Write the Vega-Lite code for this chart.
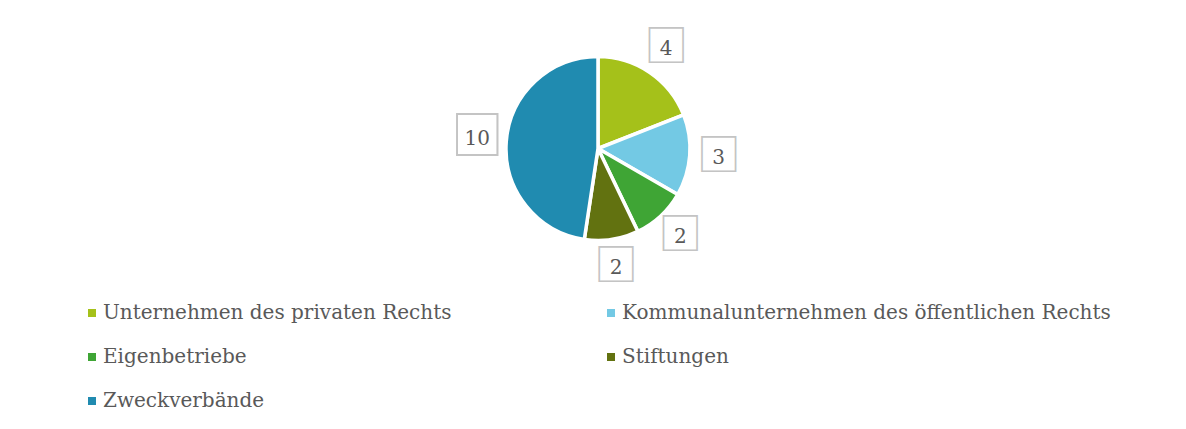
{
  "$schema": "https://vega.github.io/schema/vega-lite/v6.json",
  "width": 1176,
  "height": 297,
  "autosize": {"type": "none"},
  "padding": {"left": 10, "top": 0, "right": 0, "bottom": 132},
  "background": "white",
  "config": {"view": {"stroke": null}},
  "data": {"values": [
    {"idx": 1, "kategorie": "Unternehmen des privaten Rechts", "anzahl": 4},
    {"idx": 2, "kategorie": "Kommunalunternehmen des öffentlichen Rechts", "anzahl": 3},
    {"idx": 3, "kategorie": "Eigenbetriebe", "anzahl": 2},
    {"idx": 4, "kategorie": "Stiftungen", "anzahl": 2},
    {"idx": 5, "kategorie": "Zweckverbände", "anzahl": 10}
  ]},
  "encoding": {
    "theta": {"field": "anzahl", "type": "quantitative", "stack": true},
    "order": {"field": "idx", "type": "quantitative"}
  },
  "layer": [
    {
      "mark": {"type": "arc", "outerRadius": 92, "stroke": "white", "strokeWidth": 3.5},
      "encoding": {
        "color": {
          "field": "kategorie", "type": "nominal",
          "scale": {
            "domain": ["Unternehmen des privaten Rechts", "Eigenbetriebe", "Zweckverbände", "Kommunalunternehmen des öffentlichen Rechts", "Stiftungen"],
            "range": ["#a5c11a", "#3fa535", "#208bb0", "#73c9e4", "#627210"]
          },
          "legend": {
            "orient": "none", "legendX": 72, "legendY": 303, "columns": 2, "title": null, "padding": 0,
            "symbolType": "square", "symbolSize": 64, "symbolStrokeWidth": 0,
            "labelFont": "DejaVu Serif", "labelFontSize": 20, "labelColor": "#595959",
            "labelOffset": 1, "rowPadding": 24, "columnPadding": 149, "labelLimit": 700
          }
        }
      }
    },
    {
      "mark": {"type": "text", "radius": 121, "text": "□", "font": "Noto Sans CJK SC", "color": "#c4c4c4", "baseline": "middle", "align": "center"},
      "encoding": {
        "size": {"condition": {"test": "datum.anzahl >= 10", "value": 53}, "value": 44}
      }
    },
    {
      "mark": {"type": "text", "radius": 121, "font": "DejaVu Serif", "fontSize": 20, "color": "#595959", "baseline": "middle", "align": "center"},
      "encoding": {"text": {"field": "anzahl", "type": "quantitative"}}
    }
  ]
}
